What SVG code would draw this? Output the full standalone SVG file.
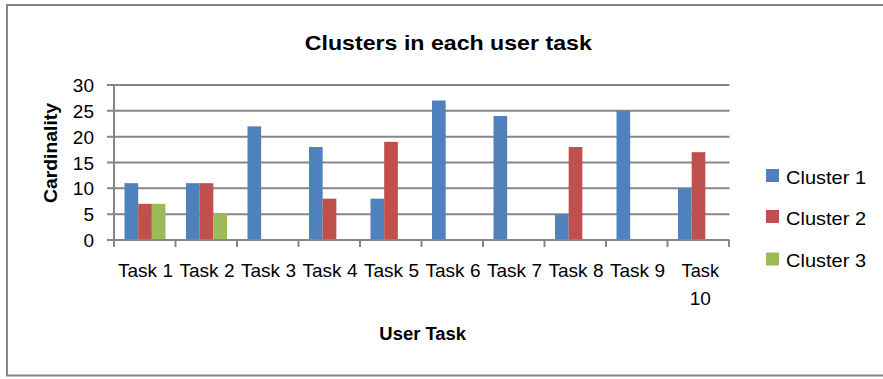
<svg xmlns="http://www.w3.org/2000/svg" width="883" height="379" viewBox="0 0 883 379">
<style>
.grid{stroke:#868686;stroke-width:2;fill:none}
.c1{fill:#4F81BD}
.c2{fill:#C0504D}
.c3{fill:#9BBB59}
.t{font-family:"Liberation Sans",Arial,sans-serif;fill:#000}
.tick{font-size:19px;text-anchor:middle}
.ytick{font-size:19px;text-anchor:end}
.b{font-weight:bold}
.leg{font-size:19px}
</style>
<rect x="7" y="5" width="890" height="370.5" fill="#fff" stroke="#868686" stroke-width="2"/>
<g id="title"><text class="t b" x="448.3" y="50" font-size="21" text-anchor="middle" textLength="287" lengthAdjust="spacingAndGlyphs">Clusters in each user task</text></g>
<g id="gridlines">
<line class="grid" x1="107" y1="85" x2="729.5" y2="85"/>
<line class="grid" x1="107" y1="110.8" x2="729.5" y2="110.8"/>
<line class="grid" x1="107" y1="136.7" x2="729.5" y2="136.7"/>
<line class="grid" x1="107" y1="162.5" x2="729.5" y2="162.5"/>
<line class="grid" x1="107" y1="188.3" x2="729.5" y2="188.3"/>
<line class="grid" x1="107" y1="214.2" x2="729.5" y2="214.2"/>
</g>
<g id="y-axis">
<line class="grid" x1="114" y1="85" x2="114" y2="240"/>
<text class="t ytick" x="94" y="92">30</text>
<text class="t ytick" x="94" y="117.8">25</text>
<text class="t ytick" x="94" y="143.7">20</text>
<text class="t ytick" x="94" y="169.5">15</text>
<text class="t ytick" x="94" y="195.3">10</text>
<text class="t ytick" x="94" y="221.2">5</text>
<text class="t ytick" x="94" y="247">0</text>
<text class="t b" font-size="18" text-anchor="middle" transform="translate(57,153) rotate(-90)" textLength="100" lengthAdjust="spacingAndGlyphs">Cardinality</text>
</g>
<g id="bars">
<rect class="c1" x="124.5" y="183.17" width="13.67" height="56.83"/>
<rect class="c2" x="138.17" y="203.83" width="13.67" height="36.17"/>
<rect class="c3" x="151.83" y="203.83" width="13.67" height="36.17"/>
<rect class="c1" x="186" y="183.17" width="13.67" height="56.83"/>
<rect class="c2" x="199.67" y="183.17" width="13.67" height="56.83"/>
<rect class="c3" x="213.33" y="214.17" width="13.67" height="25.83"/>
<rect class="c1" x="247.5" y="126.33" width="13.67" height="113.67"/>
<rect class="c1" x="309" y="147" width="13.67" height="93"/>
<rect class="c2" x="322.67" y="198.67" width="13.67" height="41.33"/>
<rect class="c1" x="370.5" y="198.67" width="13.67" height="41.33"/>
<rect class="c2" x="384.17" y="141.83" width="13.67" height="98.17"/>
<rect class="c1" x="432" y="100.5" width="13.67" height="139.5"/>
<rect class="c1" x="493.5" y="116" width="13.67" height="124"/>
<rect class="c1" x="555" y="214.17" width="13.67" height="25.83"/>
<rect class="c2" x="568.67" y="147" width="13.67" height="93"/>
<rect class="c1" x="616.5" y="110.83" width="13.67" height="129.17"/>
<rect class="c1" x="678" y="188.33" width="13.67" height="51.67"/>
<rect class="c2" x="691.67" y="152.17" width="13.67" height="87.83"/>
</g>
<g id="x-axis">
<line class="grid" x1="107" y1="240" x2="729.5" y2="240"/>
<line class="grid" x1="114" y1="240" x2="114" y2="247"/>
<line class="grid" x1="175.5" y1="240" x2="175.5" y2="247"/>
<line class="grid" x1="237" y1="240" x2="237" y2="247"/>
<line class="grid" x1="298.5" y1="240" x2="298.5" y2="247"/>
<line class="grid" x1="360" y1="240" x2="360" y2="247"/>
<line class="grid" x1="421.5" y1="240" x2="421.5" y2="247"/>
<line class="grid" x1="483" y1="240" x2="483" y2="247"/>
<line class="grid" x1="544.5" y1="240" x2="544.5" y2="247"/>
<line class="grid" x1="606" y1="240" x2="606" y2="247"/>
<line class="grid" x1="667.5" y1="240" x2="667.5" y2="247"/>
<line class="grid" x1="729" y1="240" x2="729" y2="247"/>
<text class="t tick" x="145.5" y="277" textLength="55" lengthAdjust="spacingAndGlyphs">Task 1</text>
<text class="t tick" x="207" y="277" textLength="55" lengthAdjust="spacingAndGlyphs">Task 2</text>
<text class="t tick" x="268.5" y="277" textLength="55" lengthAdjust="spacingAndGlyphs">Task 3</text>
<text class="t tick" x="330" y="277" textLength="55" lengthAdjust="spacingAndGlyphs">Task 4</text>
<text class="t tick" x="391.5" y="277" textLength="55" lengthAdjust="spacingAndGlyphs">Task 5</text>
<text class="t tick" x="453" y="277" textLength="55" lengthAdjust="spacingAndGlyphs">Task 6</text>
<text class="t tick" x="514.5" y="277" textLength="55" lengthAdjust="spacingAndGlyphs">Task 7</text>
<text class="t tick" x="576" y="277" textLength="55" lengthAdjust="spacingAndGlyphs">Task 8</text>
<text class="t tick" x="637.5" y="277" textLength="55" lengthAdjust="spacingAndGlyphs">Task 9</text>
<text class="t tick" x="700.3" y="277" textLength="37.5" lengthAdjust="spacingAndGlyphs">Task</text>
<text class="t tick" x="700.3" y="305">10</text>
<text class="t b" x="422.7" y="340" font-size="18" text-anchor="middle" textLength="86.7" lengthAdjust="spacingAndGlyphs">User Task</text>
</g>
<g id="legend">
<rect class="c1" x="766" y="169" width="13" height="13"/>
<text class="t leg" x="786" y="183.5" textLength="80" lengthAdjust="spacingAndGlyphs">Cluster 1</text>
<rect class="c2" x="766" y="210" width="13" height="13"/>
<text class="t leg" x="786" y="224.5" textLength="80" lengthAdjust="spacingAndGlyphs">Cluster 2</text>
<rect class="c3" x="766" y="252.5" width="13" height="13"/>
<text class="t leg" x="786" y="267" textLength="80" lengthAdjust="spacingAndGlyphs">Cluster 3</text>
</g>
</svg>
